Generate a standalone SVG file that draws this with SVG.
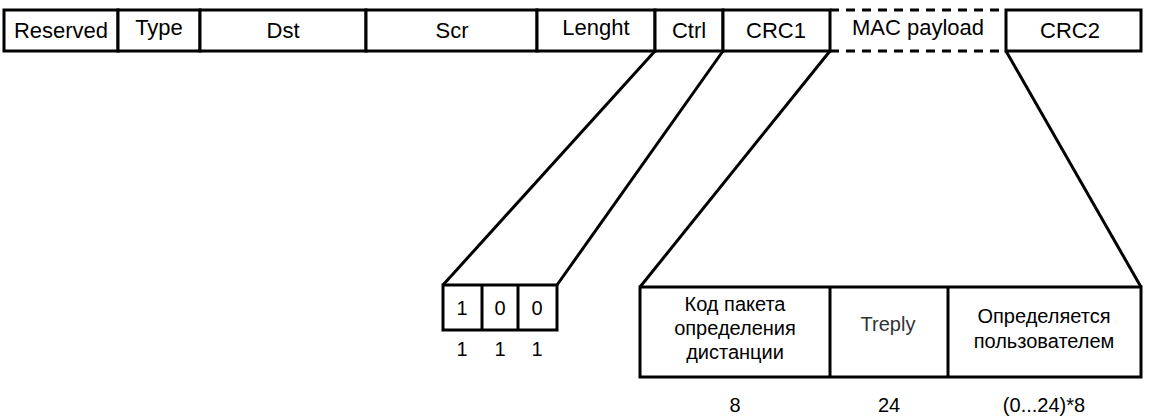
<svg xmlns="http://www.w3.org/2000/svg" width="1158" height="419" viewBox="0 0 1158 419">
<style>
.b{fill:#fff;stroke:#000;stroke-width:3}
.d{fill:none;stroke:#000;stroke-width:3;stroke-dasharray:9 7}
.l{fill:none;stroke:#000;stroke-width:3}
text{font-family:"Liberation Sans",Arial,sans-serif;font-size:20px;fill:#000;text-anchor:middle}
.h{font-size:22px}
.t{fill:#333}
</style>
<rect width="1158" height="419" fill="#fff"/>
<g id="connectors">
<line class="l" x1="655" y1="51" x2="443" y2="285"/>
<line class="l" x1="723" y1="51" x2="557" y2="285"/>
<line class="l" x1="830" y1="51" x2="640" y2="287"/>
<line class="l" x1="1006" y1="51" x2="1141" y2="287"/>
</g>
<g id="reserved"><rect class="b" x="4" y="10" width="114" height="41"/><text class="h" x="61" y="38">Reserved</text></g>
<g id="type"><rect class="b" x="118" y="10" width="82" height="41"/><text class="h" x="159" y="35">Type</text></g>
<g id="dst"><rect class="b" x="200" y="10" width="166" height="41"/><text class="h" x="283" y="38">Dst</text></g>
<g id="scr"><rect class="b" x="366" y="10" width="171" height="41"/><text class="h" x="452" y="38">Scr</text></g>
<g id="lenght"><rect class="b" x="537" y="10" width="118" height="41"/><text class="h" x="596" y="35">Lenght</text></g>
<g id="ctrl"><rect class="b" x="655" y="10" width="68" height="41"/><text class="h" x="689" y="38">Ctrl</text></g>
<g id="crc1"><rect class="b" x="723" y="10" width="107" height="41"/><text class="h" x="776" y="38">CRC1</text></g>
<g id="mac"><path class="d" d="M830 10H1006M830 51H1006"/><text class="h" x="918" y="35">MAC payload</text></g>
<g id="crc2"><rect class="b" x="1006" y="10" width="135" height="41"/><text class="h" x="1070" y="38">CRC2</text></g>
<g id="bits">
<rect class="b" x="443" y="285" width="114" height="45"/>
<line class="l" x1="482" y1="285" x2="482" y2="330"/>
<line class="l" x1="518" y1="285" x2="518" y2="330"/>
<text x="462" y="315">1</text><text x="500" y="315">0</text><text x="537" y="315">0</text>
<text x="462" y="356">1</text><text x="500" y="356">1</text><text x="537" y="356">1</text>
</g>
<g id="payload">
<rect class="b" x="640" y="287" width="501" height="90"/>
<line class="l" x1="830" y1="287" x2="830" y2="377"/>
<line class="l" x1="948" y1="287" x2="948" y2="377"/>
<text x="735" y="311">Код пакета</text>
<text x="735" y="335">определения</text>
<text x="735" y="359">дистанции</text>
<text class="t" x="888" y="331">Treply</text>
<text x="1044" y="323">Определяется</text>
<text x="1044" y="348">пользователем</text>
<text x="735" y="412">8</text>
<text x="889" y="412">24</text>
<text x="1044" y="412">(0...24)*8</text>
</g>
</svg>
